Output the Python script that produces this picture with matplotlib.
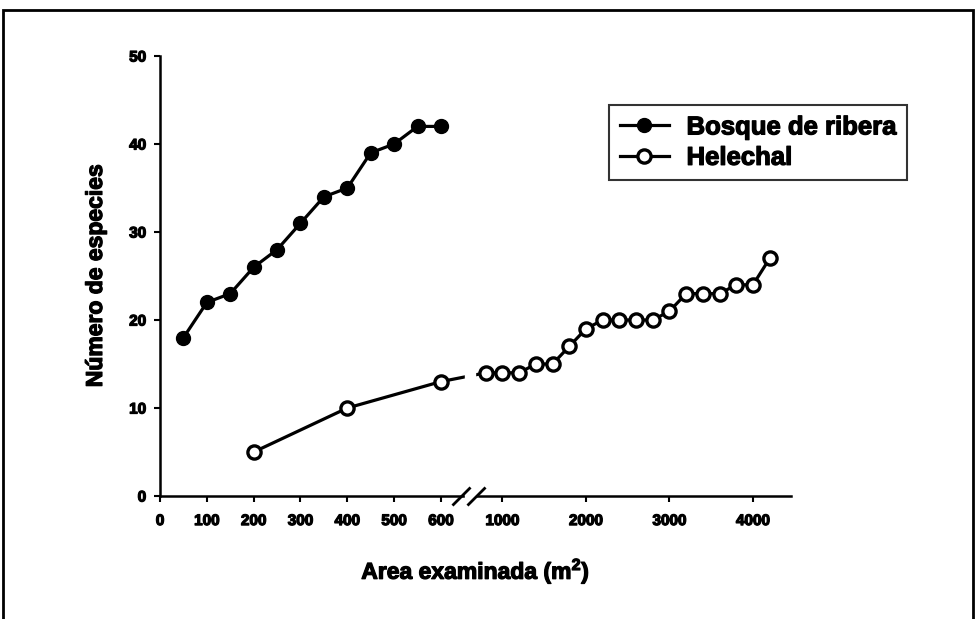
import numpy as np
import matplotlib
matplotlib.use("Agg")
import matplotlib.pyplot as plt
import matplotlib.patheffects as pe
from matplotlib.patches import Rectangle

plt.rcParams['font.family'] = ['Liberation Sans', 'DejaVu Sans']
plt.rcParams['font.weight'] = 'bold'
plt.rcParams['mathtext.fontset'] = 'custom'
plt.rcParams['mathtext.bf'] = 'Liberation Sans:bold'
plt.rcParams['mathtext.rm'] = 'Liberation Sans:bold'

# data
bosque_x = [50, 100, 150, 200, 250, 300, 350, 400, 450, 500, 550, 600]
bosque_y = [18, 22, 23, 26, 28, 31, 34, 35, 39, 40, 42, 42]
helechal_x = [200, 400, 600, 800, 1000, 1200, 1400, 1600, 1800, 2000, 2200,
              2400, 2600, 2800, 3000, 3200, 3400, 3600, 3800, 4000, 4200]
helechal_y = [5, 10, 13, 14, 14, 14, 15, 15, 17, 19, 20,
              20, 20, 20, 21, 23, 23, 23, 24, 24, 27]
xticks = [0, 100, 200, 300, 400, 500, 600, 1000, 2000, 3000, 4000]
yticks = [0, 10, 20, 30, 40, 50]

# broken x axis: linear up to ~670, compressed after
K = 673.0
R = 0.1784
OFF = 731.4


def fwd(v):
    v = np.asarray(v, dtype=float)
    return np.where(v <= K, v, OFF + (v - 1000.0) * R)


def inv(u):
    u = np.asarray(u, dtype=float)
    return np.where(u <= K, u, 1000.0 + (u - OFF) / R)


heavy = [pe.withStroke(linewidth=0.9, foreground='black')]

fig = plt.figure(figsize=(9.76, 6.19), dpi=100)
ax = fig.add_axes([0.164, 0.1987, 0.646, 0.7108])
ax.set_xscale('function', functions=(fwd, inv))

ax.plot(bosque_x, bosque_y, color='black', lw=2.3, marker='o', ms=10,
        mfc='black', mec='black', label='Bosque de ribera', zorder=4)
ax.plot(helechal_x, helechal_y, color='black', lw=2.3, marker='o', ms=9.5,
        mfc='white', mec='black', mew=2.4, label='Helechal', zorder=4)

ax.set_xlim(0, 4450)
ax.set_ylim(0, 50)
ax.set_xticks(xticks)
ax.set_xticklabels([str(t) for t in xticks])
ax.set_yticks(yticks)
ax.tick_params(direction='out', length=4, width=1.5, labelsize=11)
ax.tick_params(axis='x', pad=9)
ax.tick_params(axis='y', pad=6)
for s in ['top', 'right']:
    ax.spines[s].set_visible(False)
for s in ['left', 'bottom']:
    ax.spines[s].set_linewidth(1.8)

# break gap and slashes
ax.axvspan(652, 673, ymin=-0.02, ymax=0.5, color='white', zorder=5, clip_on=False)
brk = [(-1, -1), (1, 1)]
ax.plot([643, 678], [0, 0], transform=ax.get_xaxis_transform(), marker=brk,
        ms=13, ls='none', color='black', mew=2, clip_on=False, zorder=6)

xl = ax.set_xlabel('Area examinada (m$^\\mathbf{2}$)', fontsize=16.5,
                   fontweight='bold', labelpad=20)
yl = ax.set_ylabel('Número de especies', fontsize=16.5, fontweight='bold',
                   labelpad=16)

leg = ax.legend(loc='lower right', bbox_to_anchor=(1.185, 0.718), fontsize=18.5,
                frameon=True, fancybox=False, handlelength=1.9,
                borderpad=0.4, labelspacing=0.25, handletextpad=0.7,
                borderaxespad=0)
leg.get_frame().set_edgecolor('black')
leg.get_frame().set_linewidth(1.5)

for t in ax.get_xticklabels() + ax.get_yticklabels() + leg.get_texts() + [xl, yl]:
    t.set_path_effects(heavy)

fig.patches.append(Rectangle((3 / 976, -0.01), 970 / 976, 1 - 10 / 619 + 0.01,
                             transform=fig.transFigure, fill=False,
                             edgecolor='black', lw=2))

fig.savefig('out.png', dpi=100)
